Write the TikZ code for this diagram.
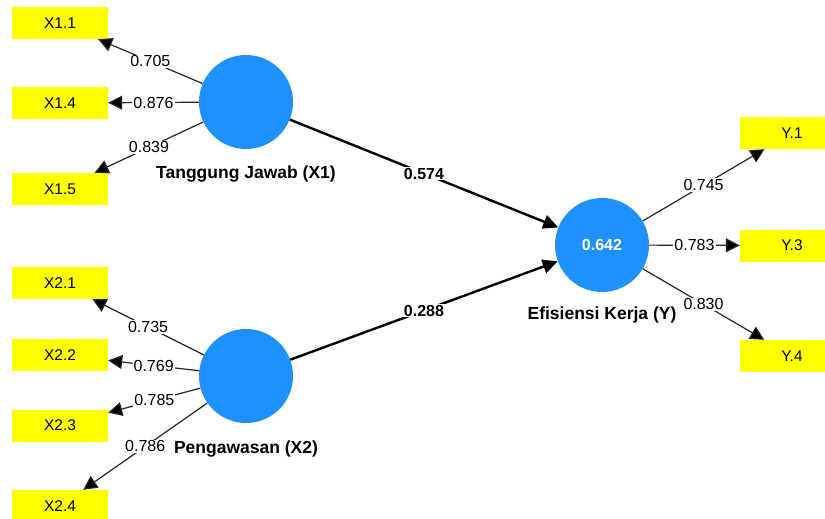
\documentclass[tikz,border=0pt]{standalone}
\usepackage{fontspec}
\setmainfont{Liberation Sans}
\usetikzlibrary{arrows.meta}
\definecolor{lvblue}{RGB}{30,144,255}
\definecolor{mvyellow}{RGB}{255,255,0}
\begin{document}
\begin{tikzpicture}[x=1pt,y=-1pt,
 latent/.style={circle,fill=lvblue,minimum size=94pt,inner sep=0pt},
 ind/.style={fill=mvyellow,minimum width=96pt,minimum height=32pt,inner sep=0pt,font=\fontsize{15.5}{18}\selectfont},
 load/.style={draw=black!85,line width=1.2pt,-{Triangle[length=14pt,width=14pt,fill=black]}},
 pathc/.style={draw=black,line width=2.4pt,-{Triangle[length=15pt,width=14pt]}},
 lbl/.style={fill=white,inner sep=1pt,font=\fontsize{16}{19}\selectfont},
 blbl/.style={fill=white,inner sep=1pt,font=\bfseries\fontsize{16}{19}\selectfont},
 lvname/.style={font=\bfseries\fontsize{17.5}{20}\selectfont}]
\clip (0,0) rectangle (825,519);
\fill[white] (0,0) rectangle (825,519);
% latent variables
\node[latent] (X1) at (246,102) {};
\node[latent] (X2) at (246,376) {};
\node[latent,text=white,font=\bfseries\fontsize{16}{19}\selectfont] (Y) at (602,245) {0.642};
\node[lvname] (nX1) at (246,174) {Tanggung Jawab (X1)};
\node[lvname] (nX2) at (246,449) {Pengawasan (X2)};
\node[lvname] (nY) at (602,315) {Efisiensi Kerja (Y)};
% indicators
\node[ind] (x11) at (60,23) {X1.1};
\node[ind] (x14) at (60,103) {X1.4};
\node[ind] (x15) at (60,189) {X1.5};
\node[ind] (x21) at (60,283) {X2.1};
\node[ind] (x22) at (60,355) {X2.2};
\node[ind] (x23) at (60,425.5) {X2.3};
\node[ind] (x24) at (60,506) {X2.4};
\node[ind,minimum width=104pt] (y1) at (792,133) {Y.1};
\node[ind,minimum width=104pt] (y3) at (792,245.5) {Y.3};
\node[ind,minimum width=104pt] (y4) at (792,356) {Y.4};
% outer loadings
\draw[load] (X1) -- node[lbl]{0.705} (x11);
\draw[load] (X1) -- node[lbl]{0.876} (x14);
\draw[load] (X1) -- node[lbl]{0.839} (x15);
\draw[load] (X2) -- node[lbl]{0.735} (x21);
\draw[load] (X2) -- node[lbl]{0.769} (x22);
\draw[load] (X2) -- node[lbl]{0.785} (x23);
\draw[load] (X2) -- node[lbl]{0.786} (x24);
\draw[load] (Y) -- node[lbl]{0.745} (y1);
\draw[load] (Y) -- node[lbl]{0.783} (y3);
\draw[load] (Y) -- node[lbl]{0.830} (y4);
% path coefficients
\draw[pathc] (X1) -- node[blbl]{0.574} (Y);
\draw[pathc] (X2) -- node[blbl]{0.288} (Y);
\end{tikzpicture}
\end{document}
